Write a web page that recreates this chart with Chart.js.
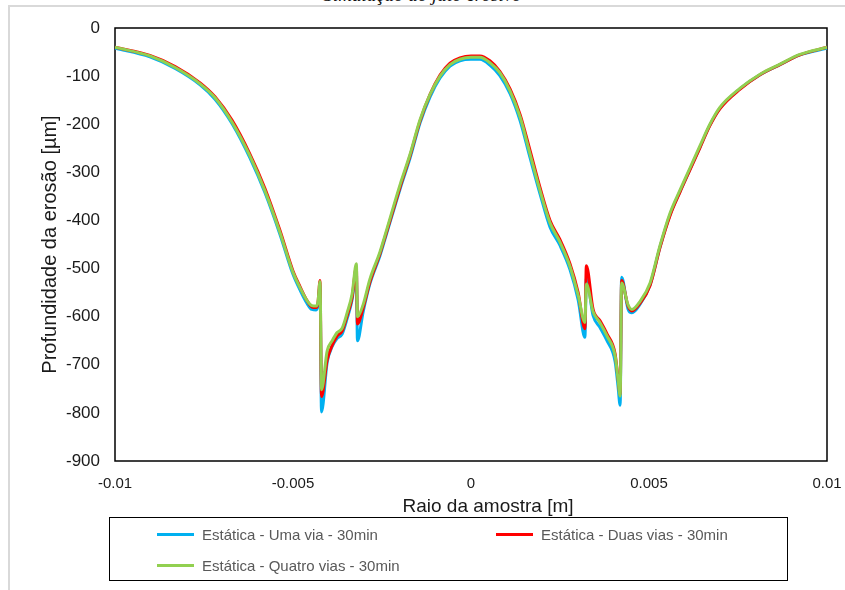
<!DOCTYPE html>
<html lang="pt">
<head>
<meta charset="utf-8">
<title>Simulação do jato erosivo</title>
<script src="https://cdn.jsdelivr.net/npm/chart.js@4.4.1/dist/chart.umd.min.js"></script>
<style>
  html, body { margin: 0; padding: 0; background: #fff; }
  #wrap { position: relative; width: 845px; height: 590px; overflow: hidden; }
  #frame {
    position: absolute; left: 8px; top: 5px; right: -10px; bottom: -10px;
    border-top: 2px solid #d9d9d9; border-left: 2px solid #d9d9d9;
  }
  #title {
    position: absolute; left: 0; width: 845px; top: -14px;
    text-align: center; font: italic 19px/18px 'Liberation Serif', serif; color: #111;
  }
  #chart { position: absolute; left: 0; top: 0; }
  #legend {
    position: absolute; left: 109px; top: 517px; width: 677px; height: 62px;
    border: 1.5px solid #000; font: 15px 'Liberation Sans', sans-serif; color: #595959;
  }
  .item { position: absolute; display: flex; align-items: center; white-space: nowrap; height: 18px; }
  .item span.swatch { display: inline-block; width: 37px; height: 3px; margin-right: 8px; }
</style>
</head>
<body>
<div id="wrap">
  <div id="frame"></div>
  <div id="title">Simulação do jato erosivo</div>
  <canvas id="chart" width="845" height="590"></canvas>
  <div id="legend"></div>
</div>
<script>
// raio [m]
const raio = [-0.01, -0.00902, -0.00831, -0.00761, -0.00719, -0.00671, -0.00621, -0.00579, -0.00537, -0.005,
  -0.0048, -0.00461, -0.00447, -0.00435, -0.0043, -0.00424, -0.0042, -0.00404, -0.0039, -0.00376,
  -0.00362, -0.00348, -0.00334, -0.00322, -0.00319, -0.00303, -0.00284, -0.00256, -0.00242, -0.00199,
  -0.00171, -0.00143, -0.00115, -0.00087, -0.00059, -0.00031, 0, 0.00025, 0.00053, 0.00081,
  0.0011, 0.00138, 0.00166, 0.00194, 0.00222, 0.0025, 0.00278, 0.00301, 0.0032, 0.00324,
  0.00343, 0.00362, 0.00382, 0.00405, 0.00413, 0.00419, 0.00423, 0.00441, 0.00452, 0.00475,
  0.00503, 0.00531, 0.00559, 0.00587, 0.00615, 0.00643, 0.00671, 0.00699, 0.00756, 0.00812,
  0.00868, 0.00924, 0.01];

// profundidade [µm]
const umaVia = [-42, -60, -84, -118, -148, -199, -270, -342, -428, -512,
  -545, -572, -585, -586, -578, -535, -798, -695, -662, -645,
  -636, -604, -565, -505, -650, -590, -532, -474, -440, -334,
  -270, -197, -143, -104, -79, -68, -65, -65, -77, -99,
  -137, -193, -270, -345, -414, -452, -502, -565, -643, -520,
  -598, -622, -650, -694, -745, -784, -518, -584, -592, -574,
  -534, -455, -388, -340, -294, -248, -202, -167, -126, -97,
  -76, -56, -42];

const duasVias = [-40, -57, -80, -114, -143, -192, -262, -333, -420, -505,
  -538, -566, -580, -581, -572, -525, -766, -690, -660, -640,
  -630, -598, -560, -497, -615, -582, -528, -470, -436, -330,
  -265, -193, -138, -98, -73, -62, -58, -58, -68, -90,
  -127, -180, -255, -332, -400, -440, -490, -550, -625, -494,
  -585, -608, -636, -678, -728, -762, -525, -578, -588, -572,
  -535, -456, -390, -341, -295, -249, -203, -168, -127, -97,
  -76, -56, -40];

const quatroVias = [-40, -58, -82, -116, -145, -196, -266, -338, -424, -508,
  -540, -566, -577, -578, -570, -527, -752, -671, -650, -633,
  -624, -592, -553, -490, -600, -575, -522, -466, -432, -325,
  -262, -190, -138, -100, -76, -65, -61, -61, -72, -93,
  -131, -185, -262, -338, -405, -445, -495, -555, -612, -532,
  -590, -612, -640, -682, -730, -765, -530, -575, -585, -568,
  -530, -452, -385, -337, -291, -245, -200, -165, -125, -96,
  -75, -55, -40];

const nomes = ['Estática - Uma via - 30min', 'Estática - Duas vias - 30min', 'Estática - Quatro vias - 30min'];
const cores = ['#00B0F0', '#FF0000', '#92D050'];
const series = [umaVia, duasVias, quatroVias];

const yTicks = [0, -100, -200, -300, -400, -500, -600, -700, -800, -900];
const xTitulo = 'Raio da amostra [m]';

const sans = "'Liberation Sans', sans-serif";

// black box around the plot area
const plotBorder = {
  id: 'plotBorder',
  beforeDatasetsDraw(chart) {
    const { ctx, chartArea: a } = chart;
    ctx.save();
    ctx.strokeStyle = '#000';
    ctx.lineWidth = 1.5;
    ctx.strokeRect(a.left, a.top, a.right - a.left, a.bottom - a.top);
    ctx.restore();
  }
};

// x axis title sits a little right of centre
const xTitle = {
  id: 'xTitle',
  afterDraw(chart) {
    const { ctx, chartArea: a } = chart;
    ctx.save();
    ctx.font = '19px ' + sans;
    ctx.fillStyle = '#1a1a1a';
    ctx.textAlign = 'center';
    ctx.textBaseline = 'alphabetic';
    ctx.fillText(xTitulo, (a.left + a.right) / 2 + 17, a.bottom + 51);
    ctx.restore();
  }
};

const datasets = series.map((vals, i) => ({
  label: nomes[i],
  data: vals.map((v, k) => ({ x: raio[k], y: v })),
  borderColor: cores[i],
  backgroundColor: cores[i],
  borderWidth: 3,
  pointRadius: 0,
  cubicInterpolationMode: 'monotone',
  order: 3 - i   // green drawn on top
}));

new Chart(document.getElementById('chart'), {
  type: 'line',
  data: { datasets },
  options: {
    responsive: false,
    animation: false,
    layout: { padding: { left: 0, right: 18, top: 28, bottom: 0 } },
    plugins: { legend: { display: false }, tooltip: { enabled: false } },
    scales: {
      x: {
        type: 'linear',
        min: -0.01, max: 0.01,
        grid: { display: false, drawTicks: false },
        border: { display: false },
        ticks: {
          stepSize: 0.005,
          padding: 14,
          color: '#1a1a1a',
          font: { family: sans, size: 15 },
          callback: v => String(Math.round(v * 1000) / 1000)
        },
        afterFit: s => { s.height = 129; s.paddingLeft = 0; s.paddingRight = 0; }
      },
      y: {
        min: -900, max: 0,
        grid: { display: false, drawTicks: false },
        border: { display: false },
        afterBuildTicks: s => { s.ticks = yTicks.map(v => ({ value: v })); },
        ticks: {
          padding: 15,
          color: '#1a1a1a',
          font: { family: sans, size: 17 }
        },
        title: {
          display: true, text: 'Profundidade da erosão [µm]', color: '#1a1a1a',
          font: { family: sans, size: 20 },
          padding: { top: 38, bottom: 0 }
        },
        afterFit: s => { s.width = 115; }
      }
    }
  },
  plugins: [plotBorder, xTitle]
});

// legend box below the chart
const legend = document.getElementById('legend');
const spots = [[47, 16], [386, 16], [47, 47]];
nomes.forEach((nome, i) => {
  const el = document.createElement('div');
  el.className = 'item';
  el.style.left = spots[i][0] + 'px';
  el.style.top = (spots[i][1] - 9) + 'px';
  el.innerHTML = '<span class="swatch" style="background:' + cores[i] + '"></span>' + nome;
  legend.appendChild(el);
});
</script>
</body>
</html>
